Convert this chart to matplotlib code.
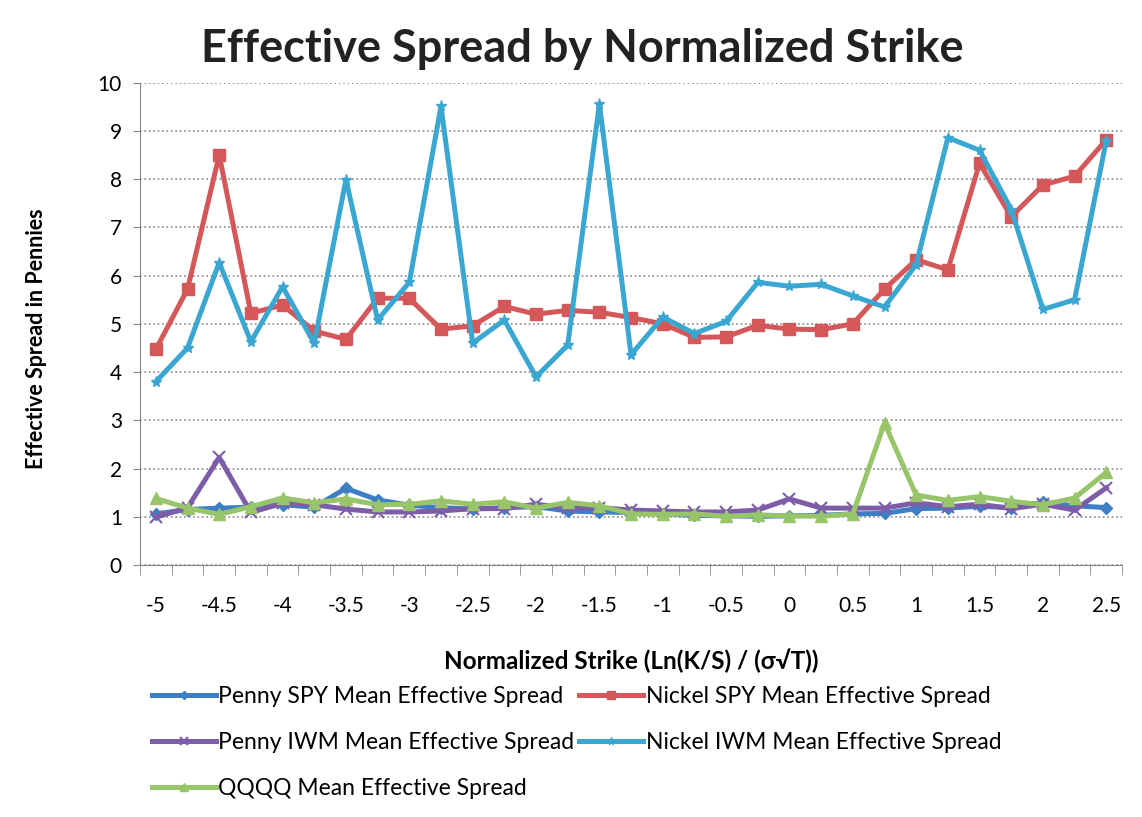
import numpy as np
import matplotlib
matplotlib.use("Agg")
import matplotlib.pyplot as plt

plt.rcParams['font.family'] = ['Lato', 'DejaVu Sans']

# Normalized strike categories, -5 to 2.5 in 0.25 steps
strikes = [-5, -4.75, -4.5, -4.25, -4, -3.75, -3.5, -3.25, -3, -2.75, -2.5,
           -2.25, -2, -1.75, -1.5, -1.25, -1, -0.75, -0.5, -0.25, 0, 0.25,
           0.5, 0.75, 1, 1.25, 1.5, 1.75, 2, 2.25, 2.5]

penny_spy = [1.06, 1.15, 1.18, 1.2, 1.25, 1.2, 1.59, 1.35, 1.24, 1.19, 1.16,
             1.19, 1.21, 1.12, 1.1, 1.09, 1.06, 1.03, 1.02, 1.01, 1.02, 1.03,
             1.06, 1.07, 1.17, 1.18, 1.22, 1.19, 1.3, 1.23, 1.19]
nickel_spy = [4.47, 5.72, 8.5, 5.22, 5.39, 4.85, 4.68, 5.53, 5.53, 4.89, 4.96,
              5.36, 5.2, 5.28, 5.24, 5.13, 5.0, 4.72, 4.73, 4.97, 4.89, 4.88,
              5.0, 5.72, 6.33, 6.12, 8.33, 7.22, 7.88, 8.06, 8.82]
penny_iwm = [0.99, 1.19, 2.23, 1.09, 1.28, 1.25, 1.16, 1.1, 1.1, 1.12, 1.17,
             1.17, 1.26, 1.18, 1.19, 1.14, 1.12, 1.1, 1.1, 1.14, 1.37, 1.18,
             1.18, 1.18, 1.29, 1.21, 1.26, 1.17, 1.26, 1.14, 1.6]
nickel_iwm = [3.8, 4.5, 6.27, 4.63, 5.77, 4.6, 7.99, 5.08, 5.86, 9.51, 4.6,
              5.08, 3.9, 4.56, 9.56, 4.36, 5.14, 4.8, 5.05, 5.86, 5.78, 5.82,
              5.58, 5.35, 6.23, 8.86, 8.6, 7.37, 5.3, 5.5, 8.8]
qqqq = [1.38, 1.18, 1.05, 1.21, 1.39, 1.29, 1.37, 1.25, 1.26, 1.33, 1.26,
        1.31, 1.18, 1.3, 1.23, 1.06, 1.05, 1.06, 1.01, 1.04, 1.02, 1.01,
        1.06, 2.94, 1.45, 1.34, 1.42, 1.32, 1.25, 1.39, 1.92]

x = np.arange(len(strikes))

fig = plt.figure(figsize=(11.42, 8.17), dpi=100)
ax = fig.add_axes([0.1226, 0.3084, 0.86, 0.5904])

lw = 3.6
h_pspy, = ax.plot(x, penny_spy, '-D', color='#3d7fc4', lw=lw, ms=6,
                  label='Penny SPY Mean Effective Spread')
h_nspy, = ax.plot(x, nickel_spy, '-s', color='#d4585a', lw=lw, ms=8,
                  label='Nickel SPY Mean Effective Spread')
h_piwm, = ax.plot(x, penny_iwm, '-x', color='#7d5ca8', lw=lw, ms=8, mew=1.5,
                  label='Penny IWM Mean Effective Spread')
h_niwm, = ax.plot(x, nickel_iwm, '-*', color='#3aa6d2', lw=lw, ms=8,
                  label='Nickel IWM Mean Effective Spread')
h_q, = ax.plot(x, qqqq, '-^', color='#98c46a', lw=lw, ms=9,
               label='QQQQ Mean Effective Spread')

ax.set_xlim(-0.5, len(strikes) - 0.5)
ax.set_ylim(0, 10)
ax.set_yticks(range(0, 11))
ax.tick_params(axis='y', labelsize=15, length=5, color='#888888', pad=8)

# labels under every other category, tick marks between categories
ax.set_xticks(x[::2])
ax.set_xticklabels([f'{s:g}' for s in strikes[::2]], fontsize=15)
ax.set_xticks(np.arange(-0.5, len(strikes)), minor=True)
ax.tick_params(axis='x', which='major', length=0, pad=22)
ax.tick_params(axis='x', which='minor', length=7, color='#888888')

ax.yaxis.grid(True, linestyle=':', color='#888888', lw=1.2)
ax.set_axisbelow(True)
for s in ['top', 'right']:
    ax.spines[s].set_visible(False)
ax.spines['left'].set_color('#888888')
ax.spines['bottom'].set_color('#888888')

ax.set_ylabel('Effective Spread in Pennies', fontsize=15.5, fontweight='bold',
              labelpad=38)
ax.yaxis.set_label_coords(-0.095, 0.47)
ax.set_xlabel('Normalized Strike (Ln(K/S) / (σ√T))', fontsize=17.5,
              fontweight='bold', labelpad=24)
fig.suptitle('Effective Spread by Normalized Strike', fontsize=32.5,
             fontweight='bold', x=0.51, y=0.966, color='#222222')

fig.legend(handles=[h_pspy, h_piwm, h_q, h_nspy, h_niwm], ncol=2,
           loc='upper left', bbox_to_anchor=(0.115, 0.186),
           frameon=False, fontsize=16.5, handlelength=2.8, handletextpad=0.1,
           columnspacing=0.2, labelspacing=1.1, markerscale=0.7)

plt.savefig('out.png', format='png')
